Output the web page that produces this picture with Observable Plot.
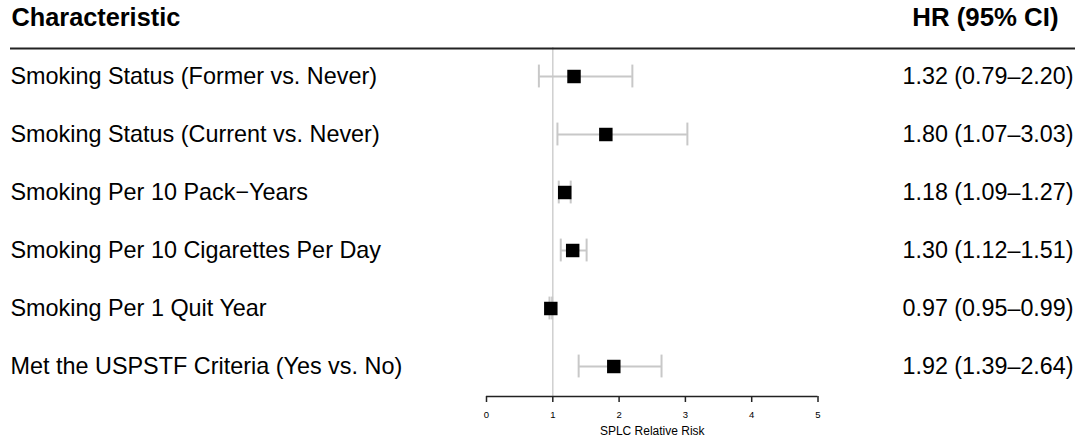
<!DOCTYPE html>
<html>
<head>
<meta charset="utf-8">
<script src="https://cdn.jsdelivr.net/npm/d3@7"></script>
<script src="https://cdn.jsdelivr.net/npm/@observablehq/plot@0.6"></script>
<style>
  html, body { margin: 0; padding: 0; background: #ffffff; }
  #chart svg { display: block; }
</style>
</head>
<body>
<div id="chart"></div>
<script>
const characteristics = [
  "Smoking Status (Former vs. Never)",
  "Smoking Status (Current vs. Never)",
  "Smoking Per 10 Pack\u2212Years",
  "Smoking Per 10 Cigarettes Per Day",
  "Smoking Per 1 Quit Year",
  "Met the USPSTF Criteria (Yes vs. No)"
];
const hr =    [1.32, 1.80, 1.18, 1.30, 0.97, 1.92];
const lower = [0.79, 1.07, 1.09, 1.12, 0.95, 1.39];
const upper = [2.20, 3.03, 1.27, 1.51, 0.99, 2.64];
const xTicks = [0, 1, 2, 3, 4, 5];
const headerLeft = "Characteristic";
const headerRight = "HR (95% CI)";
const axisLabel = "SPLC Relative Risk";

const fmt = d3.format(".2f");
const rows = characteristics.map((name, i) => ({
  name, hr: hr[i], lo: lower[i], hi: upper[i],
  ci: `${fmt(hr[i])} (${fmt(lower[i])}\u2013${fmt(upper[i])})`
}));

const font = "'Liberation Sans', Arial, Helvetica, sans-serif";
const W = 1087, H = 441;
const mL = 486, mR = 269.5, mT = 47, mB = 45;
const band = (395 - 46) / characteristics.length;
const capInset = (band - 23) / 2;

const chart = Plot.plot({
  width: W,
  height: H,
  marginLeft: mL,
  marginRight: mR,
  marginTop: mT,
  marginBottom: mB,
  style: { fontFamily: font, background: "#ffffff", color: "#000" },
  x: { domain: [0, 5] },
  y: { type: "band", domain: characteristics, range: [46, 395], padding: 0, axis: null },
  marks: [
    // reference line at HR = 1
    Plot.ruleX([1], { stroke: "#cfcfcf", strokeWidth: 1.5 }),
    // header underline
    Plot.ruleY([characteristics[0]], { y: d => d, dy: mT - 75, insetLeft: -(mL - 10), insetRight: -(mR - 12), stroke: "#222", strokeWidth: 2 }),
    // CI lines
    Plot.ruleY(rows, { y: "name", x1: "lo", x2: "hi", stroke: "#c8c8c8", strokeWidth: 2 }),
    Plot.tickX(rows, { x: "lo", y: "name", stroke: "#c8c8c8", strokeWidth: 2, insetTop: capInset, insetBottom: capInset }),
    Plot.tickX(rows, { x: "hi", y: "name", stroke: "#c8c8c8", strokeWidth: 2, insetTop: capInset, insetBottom: capInset }),
    // point estimates
    Plot.dot(rows, { x: "hr", y: "name", symbol: "square", r: 7.6, fill: "#000", stroke: null }),
    // left labels
    Plot.text(rows, { text: "name", y: "name", frameAnchor: "left", textAnchor: "start", dx: -(mL - 10), fontSize: 23.4, fill: "#000" }),
    // right CI labels
    Plot.text(rows, { text: "ci", y: "name", frameAnchor: "right", textAnchor: "end", dx: 1073 - (W - mR), fontSize: 23.3, fill: "#000" }),
    // headers
    Plot.text([headerLeft], { text: d => d, frameAnchor: "top-left", textAnchor: "start", lineAnchor: "middle", dx: -(mL - 11), dy: 17 - mT, fontSize: 25.3, fontWeight: "bold", fill: "#000" }),
    Plot.text([headerRight], { text: d => d, frameAnchor: "top-right", textAnchor: "end", lineAnchor: "middle", dx: 1058 - (W - mR), dy: 17 - mT, fontSize: 25.8, fontWeight: "bold", fill: "#000" }),
    // x axis
    Plot.ruleY([characteristics[characteristics.length - 1]], { y: d => d, dy: (H - mB) - 366, stroke: "#222", strokeWidth: 1.5 }),
    Plot.axisX({ ticks: xTicks, tickFormat: d3.format("d"), tickSize: 6, tickPadding: 9, fontSize: 9.5, stroke: "#222", strokeWidth: 1.5, label: null }),
    Plot.text([axisLabel], { text: d => d, frameAnchor: "bottom", lineAnchor: "middle", dy: 431 - (H - mB), fontSize: 12, fill: "#000" })
  ]
});

document.getElementById("chart").appendChild(chart);
</script>
</body>
</html>
